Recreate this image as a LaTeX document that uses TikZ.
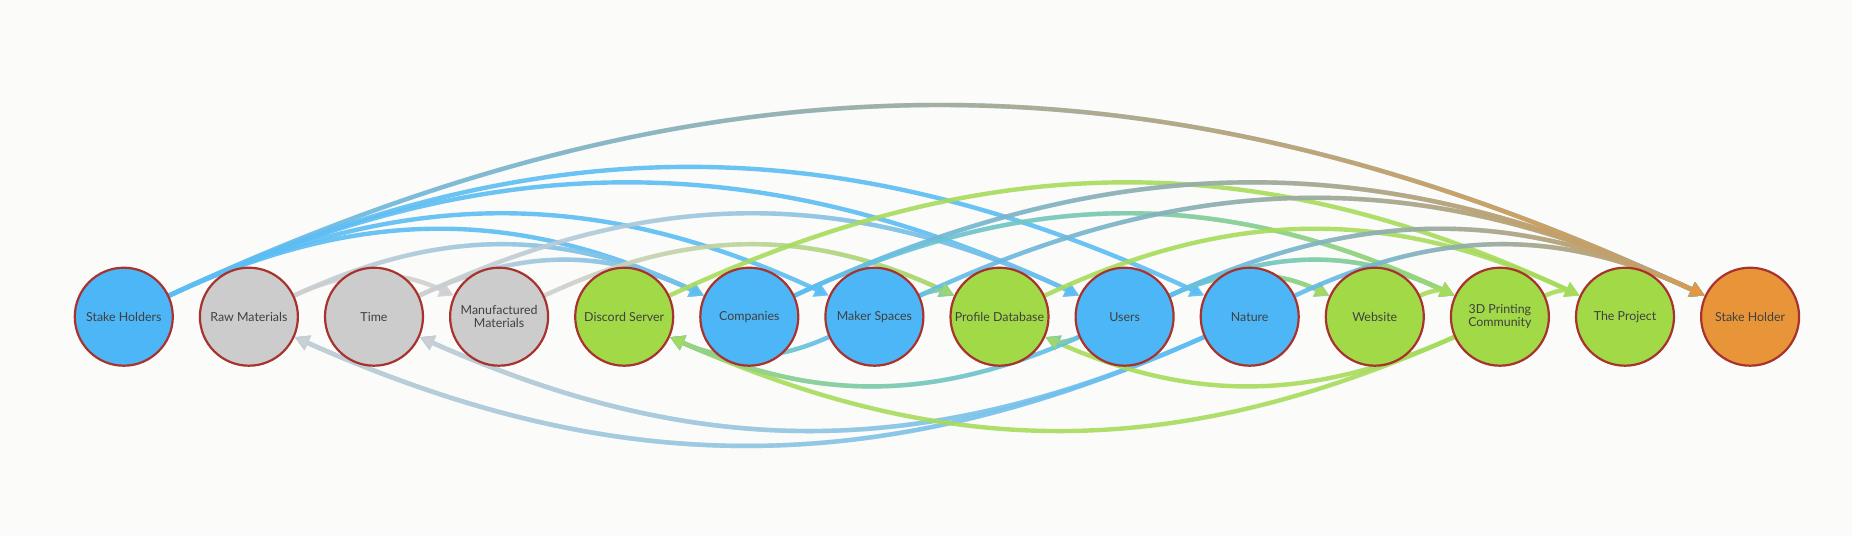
\documentclass[tikz,border=0pt]{standalone}
\usepackage{fontspec}
\setmainfont{Lato}
\usepackage{xcolor}
\usepackage{tikz}
\usetikzlibrary{arrows.meta, fadings}
\definecolor{nblue}{HTML}{4DB6F6}
\definecolor{ngray}{HTML}{CCCCCC}
\definecolor{ngreen}{HTML}{A2D947}
\definecolor{norange}{HTML}{E8953A}
\definecolor{eblue}{HTML}{5CBDF4}
\definecolor{egray}{HTML}{D0D0D0}
\definecolor{egreen}{HTML}{A7DB5C}
\definecolor{eorange}{HTML}{E8973C}
\definecolor{rim}{HTML}{A8332E}
\definecolor{paper}{HTML}{FBFBF9}
\definecolor{label}{HTML}{404040}
\pgfdeclarelayer{links}
\pgfsetlayers{links,main}
\tikzfading[name=growright, left color=transparent!100, right color=transparent!0]
\tikzfading[name=growleft, left color=transparent!0, right color=transparent!100]
\tikzset{
>={Triangle[length=3.6pt,width=3.8pt]}, % filled heads
stake/.style={circle, draw=rim, line width=0.55pt, minimum size=24.5pt, inner sep=0pt,
  text=label, align=center, font=\fontsize{3.1}{3.15}\selectfont},
bluenode/.style={stake, fill=nblue},
graynode/.style={stake, fill=ngray},
greennode/.style={stake, fill=ngreen},
orangenode/.style={stake, fill=norange},
link/.style={->, line width=1.1pt, bend left=25, draw opacity=.9}, % every arc bends the same way
back/.style={bend left=24},
grad/.style 2 args={draw=#1, postaction={draw=#2, path fading=growright}}, % colour runs left to right
gradback/.style 2 args={draw=#1, postaction={draw=#2, path fading=growleft}},
}

\begin{document}
\begin{tikzpicture}[x=31.275pt, y=31.275pt]
        \node[bluenode] (sh) at (0,0) {Stake Holders};
        \node[graynode] (rm) at (1,0) {Raw Materials};
        \node[graynode] (ti) at (2,0) {Time};
        \node[graynode] (mm) at (3,0) {Manufactured\\Materials};
        \node[greennode] (ds) at (4,0) {Discord Server};
        \node[bluenode] (co) at (5,0) {Companies};
        \node[bluenode] (ms) at (6,0) {Maker Spaces};
        \node[greennode] (pd) at (7,0) {Profile Database};
        \node[bluenode] (us) at (8,0) {Users};
        \node[bluenode] (na) at (9,0) {Nature};
        \node[greennode] (we) at (10,0) {Website};
        \node[greennode] (pc) at (11,0) {3D Printing\\Community};
        \node[greennode] (pr) at (12,0) {The Project};
        \node[orangenode] (sho) at (13,0) {Stake Holder};

        \begin{pgfonlayer}{links}
        \fill[paper] (-0.9896,-1.753) rectangle (13.8146,2.5316);
        \draw (sh) edge[link, grad={eblue}{eorange}] (sho)
                   edge[link, draw=eblue] (na)
                   edge[link, draw=eblue] (us)
                   edge[link, draw=eblue] (ms)
                   edge[link, draw=eblue] (co)
              (rm) edge[link, draw=egray] (mm)
                   edge[link, grad={egray}{eblue}] (co)
              (ti) edge[link, grad={egray}{eblue}] (co)
                   edge[link, grad={egray}{eblue}] (us)
              (mm) edge[link, grad={egray}{egreen}] (pd)
              (ds) edge[link, draw=egreen] (pr)
              (co) edge[link, grad={eblue}{eorange}] (sho)
                   edge[link, grad={eblue}{egreen}] (pc)
              (ms) edge[link, grad={eblue}{eorange}] (sho)
                   edge[link, grad={eblue}{egreen}] (pd)
              (pd) edge[link, draw=egreen] (pr)
              (us) edge[link, grad={eblue}{eorange}] (sho)
                   edge[link, grad={eblue}{egreen}] (pc)
                   edge[link, grad={eblue}{egreen}] (we)
              (na) edge[link, grad={eblue}{eorange}] (sho)
              (we) edge[link, draw=egreen] (pc)
              (pc) edge[link, draw=egreen] (pr);
        % lower arcs run back to the left
        \draw (na) edge[link, back, gradback={eblue}{egray}] (rm)
                   edge[link, back, gradback={eblue}{egray}] (ti)
              (pc) edge[link, back, draw=egreen] (ds)
                   edge[link, back, draw=egreen] (pd)
              (us) edge[link, back, gradback={eblue}{egreen}] (ds)
                   edge[link, back, gradback={eblue}{egreen}] (pd)
              (ms) edge[link, back, gradback={eblue}{egreen}] (ds);
        \end{pgfonlayer}
\end{tikzpicture}
\end{document}
